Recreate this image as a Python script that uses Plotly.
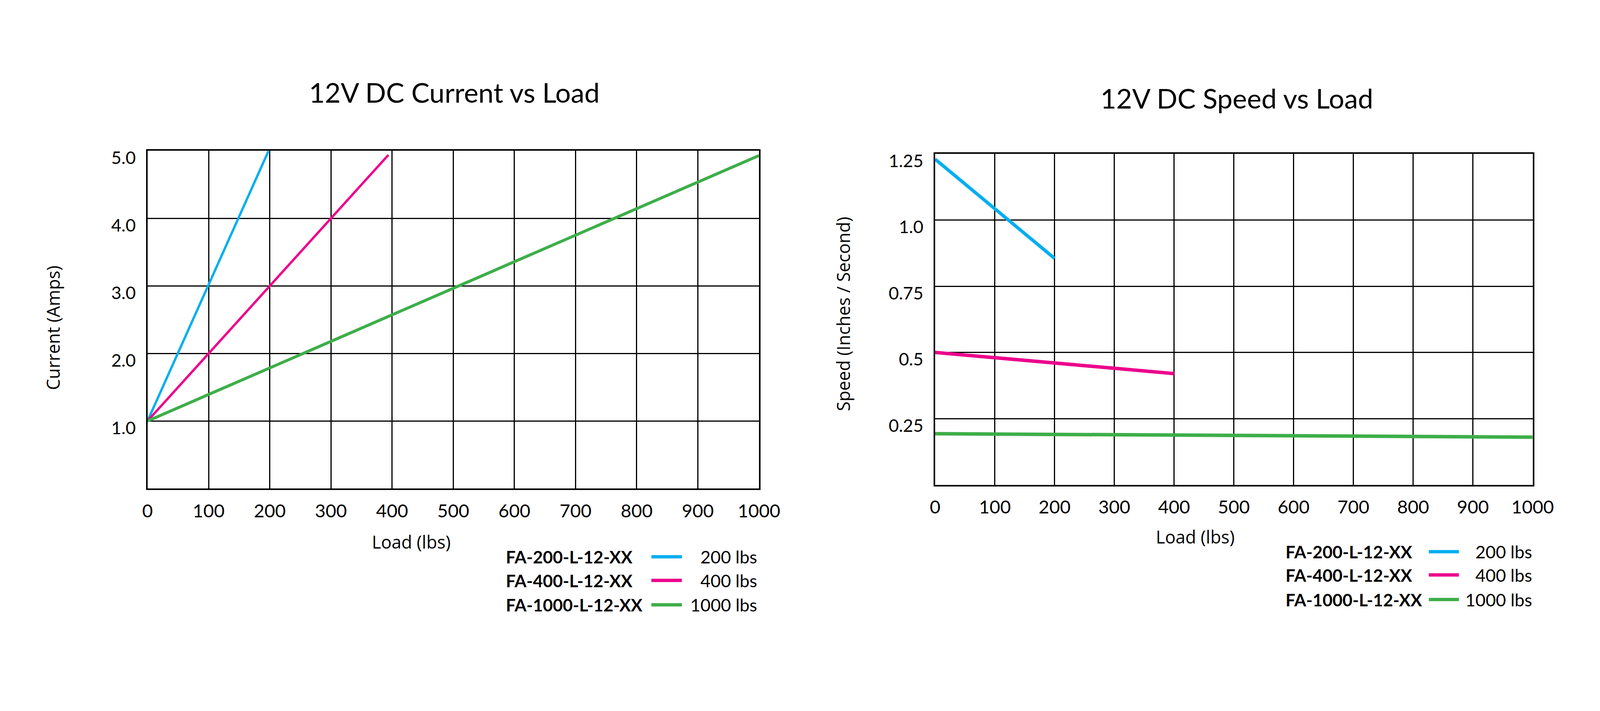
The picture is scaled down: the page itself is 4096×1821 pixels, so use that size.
import plotly.graph_objects as go

W, H = 4096, 1821

# ---------------- data ----------------
load_ticks = [0, 100, 200, 300, 400, 500, 600, 700, 800, 900, 1000]
load_tick_text = ["0", "100", "200", "300", "400", "500", "600", "700", "800", "900", "1000"]

current_tick_vals = [1, 2, 3, 4, 5]
current_tick_text = ["1.0", "2.0", "3.0", "4.0", "5.0"]

speed_tick_vals = [0.25, 0.5, 0.75, 1.0, 1.25]
speed_tick_text = ["0.25", "0.5", "0.75", "1.0", "1.25"]

models = ["FA-200-L-12-XX", "FA-400-L-12-XX", "FA-1000-L-12-XX"]
capacities = ["200 lbs", "400 lbs", "1000 lbs"]
colors = ["#00AEEF", "#EC008C", "#3DAE49"]

cur_200_load = [0, 198]
cur_200_amps = [1.0, 5.0]
cur_400_load = [0, 394]
cur_400_amps = [1.0, 4.94]
cur_1000_load = [0, 1000]
cur_1000_amps = [1.0, 4.93]

spd_200_load = [0, 200]
spd_200_ips = [1.23, 0.855]
spd_400_load = [0, 400]
spd_400_ips = [0.50, 0.42]
spd_1000_load = [0, 1000]
spd_1000_ips = [0.193, 0.180]

# ---------------- helpers (pixel -> paper) ----------------
def px(x):
    return x / W

def py(y):
    return 1 - y / H

fig = go.Figure()

cur_series = [(cur_200_load, cur_200_amps), (cur_400_load, cur_400_amps), (cur_1000_load, cur_1000_amps)]
spd_series = [(spd_200_load, spd_200_ips), (spd_400_load, spd_400_ips), (spd_1000_load, spd_1000_ips)]
cur_widths = [6, 6, 7.5]
spd_widths = [8.5, 9, 9]

for (xs, ys), c, w, name in zip(cur_series, colors, cur_widths, models):
    fig.add_trace(go.Scatter(x=xs, y=ys, mode="lines", line=dict(color=c, width=w),
                             name=name, xaxis="x", yaxis="y", showlegend=False))
for (xs, ys), c, w, name in zip(spd_series, colors, spd_widths, models):
    fig.add_trace(go.Scatter(x=xs, y=ys, mode="lines", line=dict(color=c, width=w),
                             name=name, xaxis="x2", yaxis="y2", showlegend=False))

tick_font = dict(family="Lato", size=47, color="black")
ytick_font = dict(family="Lato", size=45, color="black")

base = dict(showline=True, linecolor="black", linewidth=4, mirror=True,
            showgrid=True, gridcolor="black", gridwidth=3.4, zeroline=False,
            ticks="", fixedrange=True, automargin=False)

fig.update_layout(
    width=W, height=H,
    margin=dict(l=0, r=0, t=0, b=0, pad=0, autoexpand=False),
    paper_bgcolor="white", plot_bgcolor="white",
    showlegend=False,
    xaxis=dict(base, domain=[px(377.6), px(1943.0)], range=[0, 1000],
               tickvals=load_ticks, ticktext=load_tick_text, tickfont=tick_font,
               ticklabelstandoff=13, anchor="y"),
    yaxis=dict(base, domain=[py(1251.3), py(386.3)], range=[0, 5],
               tickvals=current_tick_vals, ticktext=current_tick_text, tickfont=ytick_font,
               ticklabelposition="outside", ticklabelshift=18, ticklabelstandoff=17, anchor="x"),
    xaxis2=dict(base, domain=[px(2393.8), px(3923.6)], range=[0, 1000],
                tickvals=load_ticks, ticktext=load_tick_text, tickfont=tick_font,
                ticklabelstandoff=13, anchor="y2"),
    yaxis2=dict(base, domain=[py(1241.7), py(394.0)], range=[0, 1.25],
                tickvals=speed_tick_vals, ticktext=speed_tick_text, tickfont=ytick_font,
                ticklabelposition="outside", ticklabelshift=18, ticklabelstandoff=17, anchor="x2"),
)

annotations = []
title_font = dict(family="Lato", size=70, color="black")
axis_title_font = dict(family="Open Sans", size=45, color="black")

annotations.append(dict(text="12V DC Current vs Load", x=px(1162.7), y=py(236), xref="paper", yref="paper",
                        showarrow=False, xanchor="center", yanchor="middle", font=title_font))
annotations.append(dict(text="12V DC Speed vs Load", x=px(3165.5), y=py(251.4), xref="paper", yref="paper",
                        showarrow=False, xanchor="center", yanchor="middle", font=title_font))
annotations.append(dict(text="Current (Amps)", x=px(134.9), y=py(839.1), xref="paper", yref="paper",
                        showarrow=False, xanchor="center", yanchor="middle", textangle=-90, font=axis_title_font))
annotations.append(dict(text="Speed (Inches / Second)", x=px(2158), y=py(804), xref="paper", yref="paper",
                        showarrow=False, xanchor="center", yanchor="middle", textangle=-90, font=axis_title_font))
annotations.append(dict(text="Load (lbs)", x=px(1052.9), y=py(1387.2), xref="paper", yref="paper",
                        showarrow=False, xanchor="center", yanchor="middle", font=axis_title_font))
annotations.append(dict(text="Load (lbs)", x=px(3060), y=py(1374.5), xref="paper", yref="paper",
                        showarrow=False, xanchor="center", yanchor="middle", font=axis_title_font))

# legends (drawn as text + swatches)
legend_specs = [
    dict(name_x=1293.0, sw0=1667.5, sw1=1745.6, cap_x=1940.1, rows=[1426.0, 1486.5, 1549.0]),
    dict(name_x=3289.0, sw0=3657.7, sw1=3734.8, cap_x=3923.6, rows=[1413.0, 1472.5, 1535.5]),
]
shapes = []
bold_font = dict(family="Lato", size=44, color="black")
reg_font = dict(family="Lato", size=45, color="black")
for spec in legend_specs:
    for ry, m, cap, c in zip(spec["rows"], models, capacities, colors):
        annotations.append(dict(text="<b>" + m + "</b>", x=px(spec["name_x"]), y=py(ry), xref="paper", yref="paper",
                                showarrow=False, xanchor="left", yanchor="middle", font=bold_font))
        annotations.append(dict(text=cap, x=px(spec["cap_x"]), y=py(ry), xref="paper", yref="paper",
                                showarrow=False, xanchor="right", yanchor="middle", font=reg_font))
        shapes.append(dict(type="line", xref="paper", yref="paper", x0=px(spec["sw0"]), x1=px(spec["sw1"]),
                           y0=py(ry), y1=py(ry), line=dict(color=c, width=8.5)))

fig.update_layout(annotations=annotations, shapes=shapes)

fig.write_html(
    "out.html",
    config={"responsive": False, "displayModeBar": False},
    post_script="document.body.style.margin='0';document.body.style.overflow='hidden';",
)
